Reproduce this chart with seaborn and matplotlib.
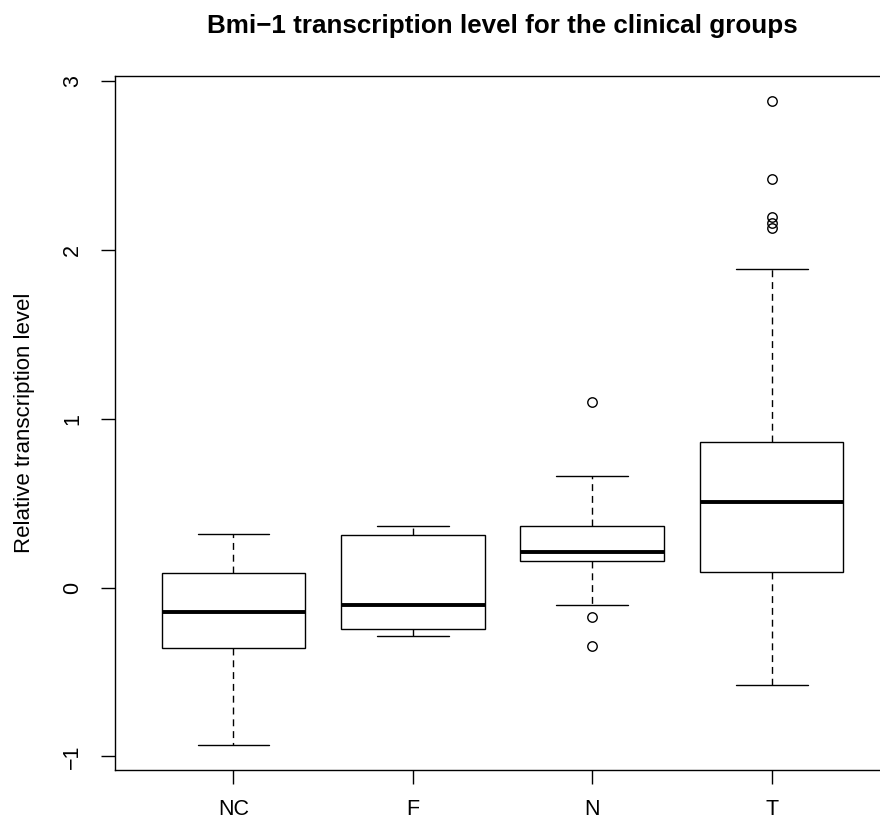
import pandas as pd
import seaborn as sns
import matplotlib.pyplot as plt

# clinical groups and relative Bmi-1 transcription levels
groups = ["NC", "F", "N", "T"]
nc_values = [-0.932, -0.356, -0.146, 0.089, 0.315]
f_values = [-0.285, -0.247, -0.103, 0.310, 0.362]
n_values = [-0.345, -0.177, -0.106, 0.155, 0.180, 0.200, 0.212,
            0.250, 0.300, 0.367, 0.500, 0.663, 1.099]
t_values = [-0.577, -0.400, -0.250, -0.100, 0.000, 0.060, 0.095,
            0.150, 0.250, 0.330, 0.400, 0.460, 0.506,
            0.550, 0.620, 0.700, 0.760, 0.820, 0.865,
            1.888, 2.129, 2.162, 2.195, 2.423, 2.880]

values = {"NC": nc_values, "F": f_values, "N": n_values, "T": t_values}
df = pd.DataFrame(
    [(g, v) for g in groups for v in values[g]], columns=["group", "level"]
)

sns.set_style("ticks")
plt.rcParams["font.family"] = ["Liberation Sans", "DejaVu Sans"]
plt.rcParams["text.color"] = "black"
plt.rcParams["axes.labelcolor"] = "black"
plt.rcParams["xtick.color"] = "black"
plt.rcParams["ytick.color"] = "black"

fig = plt.figure(figsize=(8.8, 8.21), dpi=100)
ax = fig.add_axes([0.1307, 0.0627, 0.8807, 0.8451])

sns.boxplot(
    data=df, x="group", y="level", order=groups, ax=ax,
    width=0.8, color="white", linecolor="black", saturation=1,
    linewidth=1.0, whis=1.5,
    boxprops=dict(facecolor="white", edgecolor="black", linewidth=1.0),
    medianprops=dict(color="black", linewidth=2.8),
    whiskerprops=dict(color="black", linewidth=1.0, linestyle=(0, (5, 3.5))),
    capprops=dict(color="black", linewidth=1.0),
    flierprops=dict(marker="o", markerfacecolor="none", markeredgecolor="black",
                    markersize=6.8, markeredgewidth=1.0),
)

ax.set_xlim(-0.66, 3.66)
ax.set_ylim(-1.078, 3.032)
ax.set_yticks([-1, 0, 1, 2, 3])
ax.set_xlabel("")
ax.set_ylabel("Relative transcription level", fontsize=16, color="black")
ax.yaxis.set_label_coords(-0.1174, 0.5)
ax.yaxis.label.set_va("center")

for side in ["left", "right", "top", "bottom"]:
    ax.spines[side].set_visible(True)
    ax.spines[side].set_color("black")
    ax.spines[side].set_linewidth(1.0)

ax.tick_params(axis="both", colors="black", labelcolor="black",
               length=10, width=1.0, labelsize=15.5)
ax.tick_params(axis="x", pad=11)
ax.tick_params(axis="y", pad=13, labelrotation=90)
for lab in ax.get_yticklabels():
    lab.set_va("center")

fig.text(0.571, 1 - 33 / 821, "Bmi\u22121 transcription level for the clinical groups",
         ha="center", va="baseline", fontsize=18.7, fontweight="bold", color="black")

fig.savefig("out.png", dpi=100)
plt.close(fig)
